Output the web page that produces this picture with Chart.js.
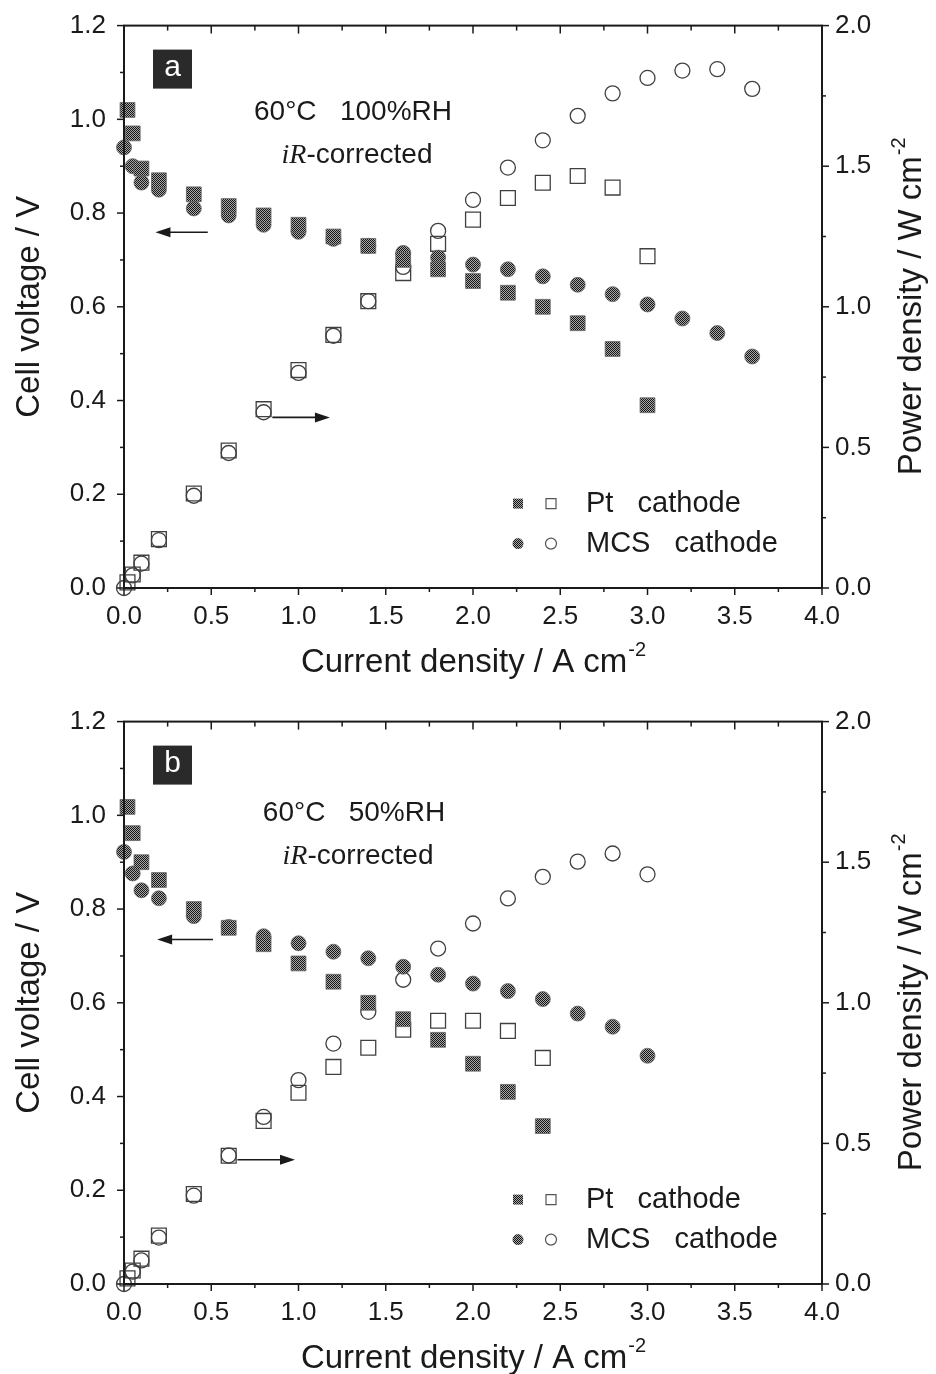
<!DOCTYPE html>
<html>
<head>
<meta charset="utf-8">
<script src="https://cdn.jsdelivr.net/npm/chart.js@4"></script>
<style>
  body { margin: 0; background: #fff; }
  .page { position: relative; width: 936px; height: 1374px; overflow: hidden; }
  .page canvas { position: absolute; left: 0; }
  #chartA { top: -8px; }
  #chartB { top: 688px; }
</style>
</head>
<body>
<div class="page">
  <canvas id="chartA" width="936" height="687"></canvas>
  <canvas id="chartB" width="936" height="687"></canvas>
</div>
<script>
// ── Tick values ──────────────────────────────────────────────
const currentTicks = [0, 0.5, 1.0, 1.5, 2.0, 2.5, 3.0, 3.5, 4.0];
const voltageTicks = [0, 0.2, 0.4, 0.6, 0.8, 1.0, 1.2];
const powerTicks = [0, 0.5, 1.0, 1.5, 2.0];

// ── Panel a: 60 °C, 100 %RH ─────────────────────────────────
const ptCurrentA  = [0.02, 0.05, 0.1, 0.2, 0.4, 0.6, 0.8, 1.0, 1.2, 1.4, 1.6, 1.8, 2.0, 2.2, 2.4, 2.6, 2.8, 3.0];
const ptVoltageA  = [1.02, 0.97, 0.895, 0.87, 0.84, 0.815, 0.795, 0.775, 0.75, 0.73, 0.70, 0.68, 0.655, 0.63, 0.60, 0.565, 0.51, 0.39];
const ptPowerA    = [0.02, 0.048, 0.09, 0.174, 0.336, 0.489, 0.636, 0.775, 0.90, 1.02, 1.12, 1.224, 1.31, 1.387, 1.441, 1.465, 1.424, 1.18];
const mcsCurrentA = [0, 0.05, 0.1, 0.2, 0.4, 0.6, 0.8, 1.0, 1.2, 1.4, 1.6, 1.8, 2.0, 2.2, 2.4, 2.6, 2.8, 3.0, 3.2, 3.4, 3.6];
const mcsVoltageA = [0.94, 0.90, 0.865, 0.85, 0.81, 0.795, 0.775, 0.76, 0.745, 0.73, 0.715, 0.705, 0.69, 0.68, 0.665, 0.647, 0.627, 0.605, 0.575, 0.544, 0.494];
const mcsPowerA   = [0, 0.045, 0.087, 0.17, 0.328, 0.48, 0.625, 0.765, 0.897, 1.02, 1.142, 1.27, 1.38, 1.495, 1.592, 1.679, 1.759, 1.814, 1.84, 1.845, 1.775];

// ── Panel b: 60 °C, 50 %RH ──────────────────────────────────
const ptCurrentB  = [0.02, 0.05, 0.1, 0.2, 0.4, 0.6, 0.8, 1.0, 1.2, 1.4, 1.6, 1.8, 2.0, 2.2, 2.4];
const ptVoltageB  = [1.018, 0.962, 0.90, 0.862, 0.80, 0.76, 0.725, 0.684, 0.645, 0.60, 0.565, 0.521, 0.47, 0.41, 0.337];
const ptPowerB    = [0.02, 0.048, 0.09, 0.172, 0.32, 0.456, 0.58, 0.68, 0.772, 0.84, 0.904, 0.936, 0.936, 0.90, 0.804];
const mcsCurrentB = [0, 0.05, 0.1, 0.2, 0.4, 0.6, 0.8, 1.0, 1.2, 1.4, 1.6, 1.8, 2.0, 2.2, 2.4, 2.6, 2.8, 3.0];
const mcsVoltageB = [0.922, 0.876, 0.84, 0.823, 0.785, 0.762, 0.742, 0.727, 0.709, 0.695, 0.677, 0.66, 0.641, 0.625, 0.608, 0.577, 0.549, 0.487];
const mcsPowerB   = [0, 0.044, 0.084, 0.165, 0.314, 0.457, 0.594, 0.725, 0.855, 0.968, 1.082, 1.193, 1.282, 1.371, 1.448, 1.502, 1.531, 1.457];

const INK = '#1a1a1a';
const SANS = '"Liberation Sans", Arial, sans-serif';
const SERIF = '"Liberation Serif", "Times New Roman", serif';

// halftone-ish fill for the solid markers
function makeHalftone() {
  const c = document.createElement('canvas');
  c.width = 2; c.height = 2;
  const g = c.getContext('2d');
  g.fillStyle = '#a8a8a8'; g.fillRect(0, 0, 2, 2);
  g.fillStyle = '#161616'; g.fillRect(0, 0, 1, 1); g.fillRect(1, 1, 1, 1);
  return g.createPattern(c, 'repeat');
}
const HALF = makeHalftone();

const pts = (xs, ys) => xs.map((x, i) => ({ x, y: ys[i] }));
const midpoints = arr => arr.slice(1).map((v, i) => (v + arr[i]) / 2);

function drawSupText(ctx, base, sup, x, y, size, rotate) {
  ctx.save();
  ctx.translate(x, y);
  if (rotate) ctx.rotate(rotate);
  ctx.font = `${size}px ${SANS}`;
  const wb = ctx.measureText(base).width;
  ctx.font = `${Math.round(size * 0.6)}px ${SANS}`;
  const ws = sup ? ctx.measureText(sup).width : 0;
  const x0 = -(wb + ws) / 2;
  ctx.fillStyle = INK;
  ctx.textBaseline = 'middle';
  ctx.textAlign = 'left';
  ctx.font = `${size}px ${SANS}`;
  ctx.fillText(base, x0, 0);
  if (sup) {
    ctx.font = `${Math.round(size * 0.6)}px ${SANS}`;
    ctx.fillText(sup, x0 + wb + 1, -size * 0.38);
  }
  ctx.restore();
}

// frame, ticks (major + minor) and axis titles
const boxTicks = {
  id: 'boxTicks',
  afterDraw(chart) {
    const { ctx, chartArea: a, scales } = chart;
    ctx.save();
    ctx.strokeStyle = INK;
    ctx.lineWidth = 2;
    ctx.strokeRect(a.left, a.top, a.right - a.left, a.bottom - a.top);
    ctx.lineWidth = 1.5;
    const line = (x1, y1, x2, y2) => { ctx.beginPath(); ctx.moveTo(x1, y1); ctx.lineTo(x2, y2); ctx.stroke(); };

    currentTicks.forEach(v => {
      const x = scales.x.getPixelForValue(v);
      line(x, a.bottom, x, a.bottom + 7);
      line(x, a.top, x, a.top + 8);
    });
    midpoints(currentTicks).forEach(v => {
      const x = scales.x.getPixelForValue(v);
      line(x, a.bottom, x, a.bottom + 4);
      line(x, a.top, x, a.top + 5);
    });
    voltageTicks.forEach(v => { const y = scales.y.getPixelForValue(v); line(a.left - 7, y, a.left, y); });
    midpoints(voltageTicks).forEach(v => { const y = scales.y.getPixelForValue(v); line(a.left - 4, y, a.left, y); });
    powerTicks.forEach(v => { const y = scales.y2.getPixelForValue(v); line(a.right, y, a.right + 7, y); });
    midpoints(powerTicks).forEach(v => { const y = scales.y2.getPixelForValue(v); line(a.right, y, a.right + 4, y); });

    const cx = (a.left + a.right) / 2, cy = (a.top + a.bottom) / 2;
    drawSupText(ctx, 'Current density / A cm', '-2', cx, a.bottom + 75, 33);
    drawSupText(ctx, 'Cell voltage / V', '', 30, cy, 33, -Math.PI / 2);
    drawSupText(ctx, 'Power density / W cm', '-2', 912, cy, 33, -Math.PI / 2);
    ctx.restore();
  }
};

// panel letter, condition text, arrows, legend
const panelNotes = {
  id: 'panelNotes',
  afterDraw(chart, args, o) {
    const { ctx, chartArea: a, scales } = chart;
    ctx.save();
    // letter box
    ctx.fillStyle = '#2a2a2a';
    ctx.fillRect(a.left + 29, a.top + 24, 39, 39);
    ctx.fillStyle = '#fff';
    ctx.font = `30px ${SANS}`;
    ctx.textAlign = 'center';
    ctx.textBaseline = 'middle';
    ctx.fillText(o.letter, a.left + 48.5, a.top + 42);

    // condition text
    ctx.fillStyle = INK;
    ctx.font = `28px ${SANS}`;
    ctx.fillText(o.condition, o.textX, a.top + o.textY);
    ctx.font = `italic 28px ${SERIF}`;
    const w1 = ctx.measureText('iR').width;
    ctx.font = `28px ${SANS}`;
    const w2 = ctx.measureText('-corrected').width;
    const x0 = o.textX + 4 - (w1 + w2) / 2;
    ctx.textAlign = 'left';
    ctx.font = `italic 28px ${SERIF}`;
    ctx.fillText('iR', x0, a.top + o.textY + 43);
    ctx.font = `28px ${SANS}`;
    ctx.fillText('-corrected', x0 + w1, a.top + o.textY + 43);

    // arrows (data coordinates on the voltage scale)
    ctx.strokeStyle = INK; ctx.fillStyle = INK; ctx.lineWidth = 1.6;
    o.arrows.forEach(([x1, x2, v]) => {
      const px1 = scales.x.getPixelForValue(x1), px2 = scales.x.getPixelForValue(x2);
      const py = scales.y.getPixelForValue(v);
      const dir = Math.sign(px2 - px1);
      ctx.beginPath(); ctx.moveTo(px1, py); ctx.lineTo(px2 - dir * 10, py); ctx.stroke();
      ctx.beginPath();
      ctx.moveTo(px2, py);
      ctx.lineTo(px2 - dir * 15, py - 5);
      ctx.lineTo(px2 - dir * 15, py + 5);
      ctx.closePath(); ctx.fill();
    });

    // legend
    const rows = [['rect', 'Pt   cathode'], ['circle', 'MCS   cathode']];
    rows.forEach(([shape, label], i) => {
      const y = a.top + 478 + i * 40;
      [[518, true], [551, false]].forEach(([x, solid]) => {
        ctx.beginPath();
        if (shape === 'rect') ctx.rect(x - 5, y - 5, 10, 10);
        else ctx.arc(x, y, 5.5, 0, Math.PI * 2);
        if (solid) { ctx.fillStyle = HALF; ctx.fill(); }
        else { ctx.strokeStyle = '#555'; ctx.lineWidth = 1.2; ctx.stroke(); }
      });
      ctx.fillStyle = INK;
      ctx.font = `29px ${SANS}`;
      ctx.textAlign = 'left';
      ctx.textBaseline = 'middle';
      ctx.fillText(label, 586, y);
    });
    ctx.restore();
  }
};

const solidSet = (data, style, axis) => ({
  data, yAxisID: axis, pointStyle: style,
  pointRadius: style === 'rect' ? 10.5 : 7.5,
  pointBackgroundColor: HALF, pointBorderColor: '#666', pointBorderWidth: 0.8,
  clip: false
});
const openSet = (data, style, axis) => ({
  data, yAxisID: axis, pointStyle: style,
  pointRadius: style === 'rect' ? 10.5 : 7.5,
  pointBackgroundColor: 'rgba(255,255,255,0)', pointBorderColor: '#404040', pointBorderWidth: 1.3,
  clip: false
});

function makePanel(id, sets, notes) {
  const tickFont = { family: SANS, size: 26 };
  return new Chart(document.getElementById(id), {
    type: 'scatter',
    data: {
      datasets: [
        solidSet(pts(sets.ptI, sets.ptV), 'rect', 'y'),
        solidSet(pts(sets.mcsI, sets.mcsV), 'circle', 'y'),
        openSet(pts(sets.ptI, sets.ptP), 'rect', 'y2'),
        openSet(pts(sets.mcsI, sets.mcsP), 'circle', 'y2')
      ]
    },
    options: {
      responsive: false,
      animation: false,
      layout: { padding: { top: 33, left: 0, right: 0, bottom: 0 } },
      plugins: { legend: { display: false }, tooltip: { enabled: false }, panelNotes: notes },
      scales: {
        x: {
          type: 'linear', min: 0, max: 4,
          afterBuildTicks: s => { s.ticks = currentTicks.map(v => ({ value: v })); },
          afterFit: s => { s.height = 91; },
          grid: { display: false, drawTicks: false }, border: { display: false },
          ticks: { font: tickFont, color: INK, padding: 13, maxRotation: 0, callback: v => v.toFixed(1) }
        },
        y: {
          type: 'linear', position: 'left', min: 0, max: 1.2,
          afterBuildTicks: s => { s.ticks = voltageTicks.map(v => ({ value: v })); },
          afterFit: s => { s.width = 124; },
          grid: { display: false, drawTicks: false }, border: { display: false },
          ticks: { font: tickFont, color: INK, padding: 18, callback: v => v.toFixed(1) }
        },
        y2: {
          type: 'linear', position: 'right', min: 0, max: 2,
          afterBuildTicks: s => { s.ticks = powerTicks.map(v => ({ value: v })); },
          afterFit: s => { s.width = 114; },
          grid: { display: false, drawTicks: false }, border: { display: false },
          ticks: { font: tickFont, color: INK, padding: 13, callback: v => v.toFixed(1) }
        }
      }
    },
    plugins: [boxTicks, panelNotes]
  });
}

makePanel('chartA',
  { ptI: ptCurrentA, ptV: ptVoltageA, ptP: ptPowerA, mcsI: mcsCurrentA, mcsV: mcsVoltageA, mcsP: mcsPowerA },
  { letter: 'a', condition: '60°C   100%RH', textX: 353, textY: 87, arrows: [[0.48, 0.18, 0.759], [0.85, 1.18, 0.364]] });

makePanel('chartB',
  { ptI: ptCurrentB, ptV: ptVoltageB, ptP: ptPowerB, mcsI: mcsCurrentB, mcsV: mcsVoltageB, mcsP: mcsPowerB },
  { letter: 'b', condition: '60°C   50%RH', textX: 354, textY: 92, arrows: [[0.51, 0.19, 0.735], [0.65, 0.98, 0.265]] });
</script>
</body>
</html>
